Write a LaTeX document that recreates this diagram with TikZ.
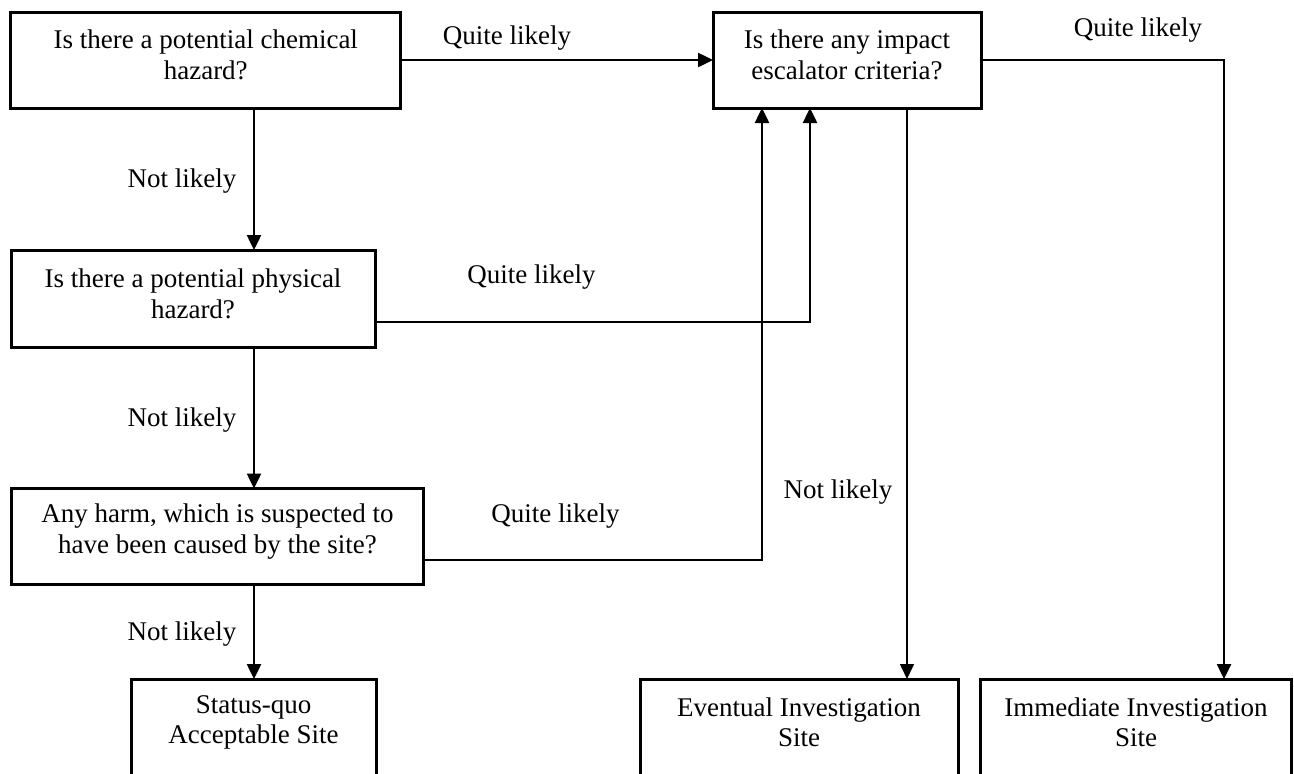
\documentclass[tikz,border=0pt]{standalone}
\usepackage{fontspec}
\setmainfont{Liberation Serif}
\usetikzlibrary{arrows.meta}

\tikzset{
  box/.style={draw, line width=3pt, rectangle, inner sep=0pt, outer sep=0pt},
  boxtext/.style={align=center, inner sep=0pt, font=\fontsize{27}{30.5}\selectfont},
  lbl/.style={inner sep=0pt, font=\fontsize{27}{31}\selectfont},
  conn/.style={line width=2.5pt, -{Triangle[length=15pt,width=14pt]}},
  thinconn/.style={line width=1.6pt, -{Triangle[length=15pt,width=14pt]}},
}

\begin{document}
\begin{tikzpicture}[x=1pt, y=-1pt]
\useasboundingbox (0,0) rectangle (1294,774);
\clip (0,0) rectangle (1294,774);

% question boxes
\node[box, minimum width=390pt, minimum height=96pt] (chem) at (205.5,60) {};
\node[box, minimum width=268pt, minimum height=96pt] (impact) at (847,60) {};
\node[box, minimum width=364pt, minimum height=97pt] (phys) at (193,298.5) {};
\node[box, minimum width=412pt, minimum height=96pt] (harm) at (217,536.5) {};

% outcome boxes (run past the lower edge)
\node[box, minimum width=245pt, minimum height=100pt] (status) at (253.5,729) {};
\node[box, minimum width=318pt, minimum height=100pt] (eventual) at (799,729) {};
\node[box, minimum width=311pt, minimum height=100pt] (immediate) at (1135.5,729) {};

% box texts
\node[boxtext] (chem-t) at (205.75,55) {Is there a potential chemical\\hazard?};
\node[boxtext] (impact-t) at (847,55) {Is there any impact\\escalator criteria?};
\node[boxtext] (phys-t) at (193,294) {Is there a potential physical\\hazard?};
\node[boxtext] (harm-t) at (217.5,531.5) {Any harm, which is suspected to\\have been caused by the site?};
\node[boxtext] (status-t) at (253.5,722.5) {Status-quo\\Acceptable Site};
\node[boxtext] (eventual-t) at (799,722.5) {Eventual Investigation\\Site};
\node[boxtext] (immediate-t) at (1136,722.5) {Immediate Investigation\\Site};

% routing coordinates
\coordinate (spine) at (254,0);
\coordinate (ql2) at (810,322);
\coordinate (ql3) at (762,560);
\coordinate (nl4) at (907,0);
\coordinate (ql4) at (1224,60);

% connectors
\draw[conn] (chem.east) -- (impact.west);
\draw[conn] (chem.south -| spine) -- (phys.north -| spine);
\draw[conn] (phys.south -| spine) -- (harm.north -| spine);
\draw[conn] (harm.south -| spine) -- (status.north -| spine);
\draw[conn] (phys.east |- ql2) -| (impact.south -| ql2);
\draw[conn] (harm.east |- ql3) -| (impact.south -| ql3);
\draw[thinconn] (impact.south -| nl4) -- (eventual.north -| nl4);
\draw[conn] (impact.east) -| (immediate.north -| ql4);

% connector labels
\node[lbl] (q1) at (507,38.5) {Quite likely};
\node[lbl] (q2) at (531.5,277) {Quite likely};
\node[lbl] (q3) at (555.5,516) {Quite likely};
\node[lbl] (q4) at (1138,29.6) {Quite likely};
\node[lbl] (n1) at (182,181) {Not likely};
\node[lbl] (n2) at (182,420.5) {Not likely};
\node[lbl] (n3) at (182,634) {Not likely};
\node[lbl] (n4) at (838,492) {Not likely};
\end{tikzpicture}
\end{document}
